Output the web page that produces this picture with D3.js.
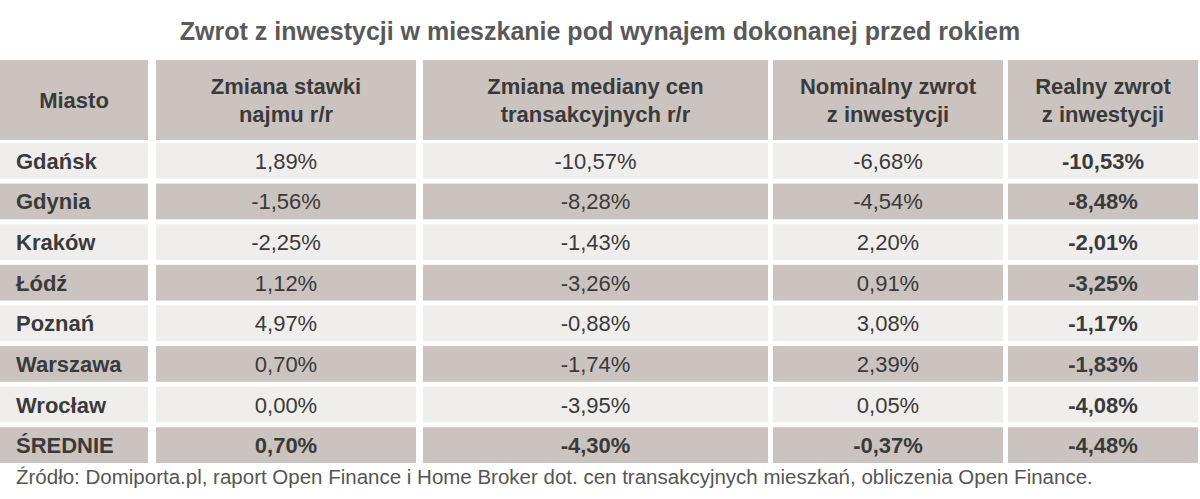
<!DOCTYPE html><html><head><meta charset="utf-8"><script src="https://cdn.jsdelivr.net/npm/d3@7"></script>
<style>body{margin:0;background:#fff}</style></head><body><svg id="c" width="1200" height="499"></svg><script>
const title="Zwrot z inwestycji w mieszkanie pod wynajem dokonanej przed rokiem";
const headers=[["Miasto"],["Zmiana stawki","najmu r/r"],["Zmiana mediany cen","transakcyjnych r/r"],["Nominalny zwrot","z inwestycji"],["Realny zwrot","z inwestycji"]];
const cities=["Gdańsk","Gdynia","Kraków","Łódź","Poznań","Warszawa","Wrocław","ŚREDNIE"];
const rent=["1,89%","-1,56%","-2,25%","1,12%","4,97%","0,70%","0,00%","0,70%"];
const price=["-10,57%","-8,28%","-1,43%","-3,26%","-0,88%","-1,74%","-3,95%","-4,30%"];
const nominal=["-6,68%","-4,54%","2,20%","0,91%","3,08%","2,39%","0,05%","-0,37%"];
const real=["-10,53%","-8,48%","-2,01%","-3,25%","-1,17%","-1,83%","-4,08%","-4,48%"];
const source="Źródło: Domiporta.pl, raport Open Finance i Home Broker dot. cen transakcyjnych mieszkań, obliczenia Open Finance.";
const svg=d3.select("#c");const F="Liberation Sans, Arial, sans-serif";
const colX=[0,156,423,773,1008],colW=[148,260,345,230,190];
const dark="#cbc3c0",light="#f0eeed",txt="#3a3a3a";
svg.append("text").attr("x",600).attr("y",40).attr("text-anchor","middle").attr("font-family",F).attr("font-weight","bold").attr("font-size",25).attr("fill","#595959").text(title);
const y=d3.scaleBand().domain(d3.range(cities.length)).range([143,463]).paddingInner(0.12);
headers.forEach((h,i)=>{svg.append("rect").attr("x",colX[i]).attr("y",60).attr("width",colW[i]).attr("height",80).attr("fill",dark);
 const t=svg.append("text").attr("x",colX[i]+colW[i]/2).attr("text-anchor","middle").attr("font-family",F).attr("font-weight","bold").attr("font-size",22).attr("fill",txt);
 h.forEach((l,j)=>t.append("tspan").attr("x",colX[i]+colW[i]/2).attr("y",h.length==1?108:94+j*28).text(l));});
const cols=[cities,rent,price,nominal,real];
cities.forEach((c,r)=>{const last=r==cities.length-1;
 cols.forEach((arr,i)=>{svg.append("rect").attr("x",colX[i]).attr("y",y(r)).attr("width",colW[i]).attr("height",y.bandwidth()).attr("fill",r%2?dark:light);
  svg.append("text").attr("x",i==0?16:colX[i]+colW[i]/2).attr("y",y(r)+y.bandwidth()/2+8).attr("text-anchor",i==0?"start":"middle").attr("font-family",F).attr("font-size",22).attr("font-weight",(i==0||i==4||last)?"bold":"normal").attr("fill",txt).text(arr[r]);});});
svg.append("text").attr("x",16).attr("y",484).attr("font-family",F).attr("font-size",20.5).attr("fill","#555").text(source);
</script></body></html>
